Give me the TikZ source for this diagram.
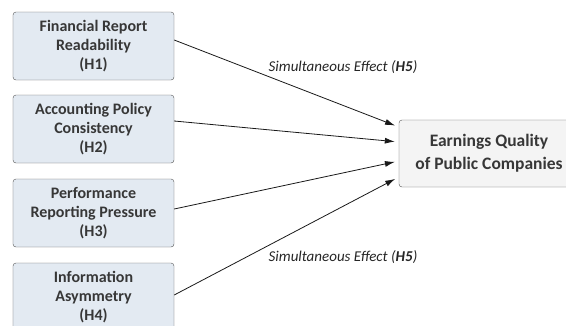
\documentclass[tikz,border=0pt]{standalone}
\usepackage{fontspec}
\setmainfont{Carlito}
\usetikzlibrary{arrows.meta,calc}
\usepackage{xcolor}
\definecolor{factorc}{RGB}{227,234,242}
\definecolor{outcomec}{RGB}{244,244,244}
\definecolor{linec}{RGB}{85,85,85}
\definecolor{textc}{RGB}{55,55,55}

\begin{document}
\begin{tikzpicture}[x=1bp, y=1bp,
  factor/.style={draw=linec, fill=factorc, rounded corners=3pt, align=center,
                 inner sep=2pt, minimum width=161bp, minimum height=68bp, text=textc,
                 font=\fontsize{16bp}{19bp}\selectfont\bfseries},
  outcome/.style={draw=linec, fill=outcomec, rounded corners=3pt, align=center,
                  inner sep=2pt, minimum width=180bp, minimum height=67bp, text=textc,
                  font=\fontsize{17.5bp}{23bp}\selectfont\bfseries},
  effect/.style={-{Latex[length=10bp,width=6bp]}, black!90, line width=0.8bp, shorten >=4bp},
  note/.style={font=\fontsize{15bp}{18bp}\selectfont\itshape, text=black!85},
]
\clip (0,0) rectangle (566,-325);

% independent variables
\node[factor] (h1) at (93.5,-46)  {Financial Report\\Readability\\(H1)};
\node[factor] (h2) at (93.5,-129) {Accounting Policy\\Consistency\\(H2)};
\node[factor] (h3) at (93.5,-213) {Performance\\Reporting Pressure\\(H3)};
\node[factor] (h4) at (93.5,-297) {Information\\Asymmetry\\(H4)};

% dependent variable
\node[outcome] (eq) at (489,-153.5) {Earnings Quality\\of Public Companies};

% effects
\draw[effect] ([yshift=6bp]h1.east) -- ([yshift=26.5bp]eq.west);
\draw[effect] ([yshift=8bp]h2.east) -- ([yshift=11.5bp]eq.west);
\draw[effect] ([yshift=4bp]h3.east) -- ([yshift=-7.5bp]eq.west);
\draw[effect] ([yshift=2bp]h4.east) -- ([yshift=-23.5bp]eq.west);

% simultaneous effect labels
\node[note] (s1) at (343,-67)  {Simultaneous Effect (\textbf{H5})};
\node[note] (s2) at (343,-257) {Simultaneous Effect (\textbf{H5})};

\end{tikzpicture}
\end{document}
